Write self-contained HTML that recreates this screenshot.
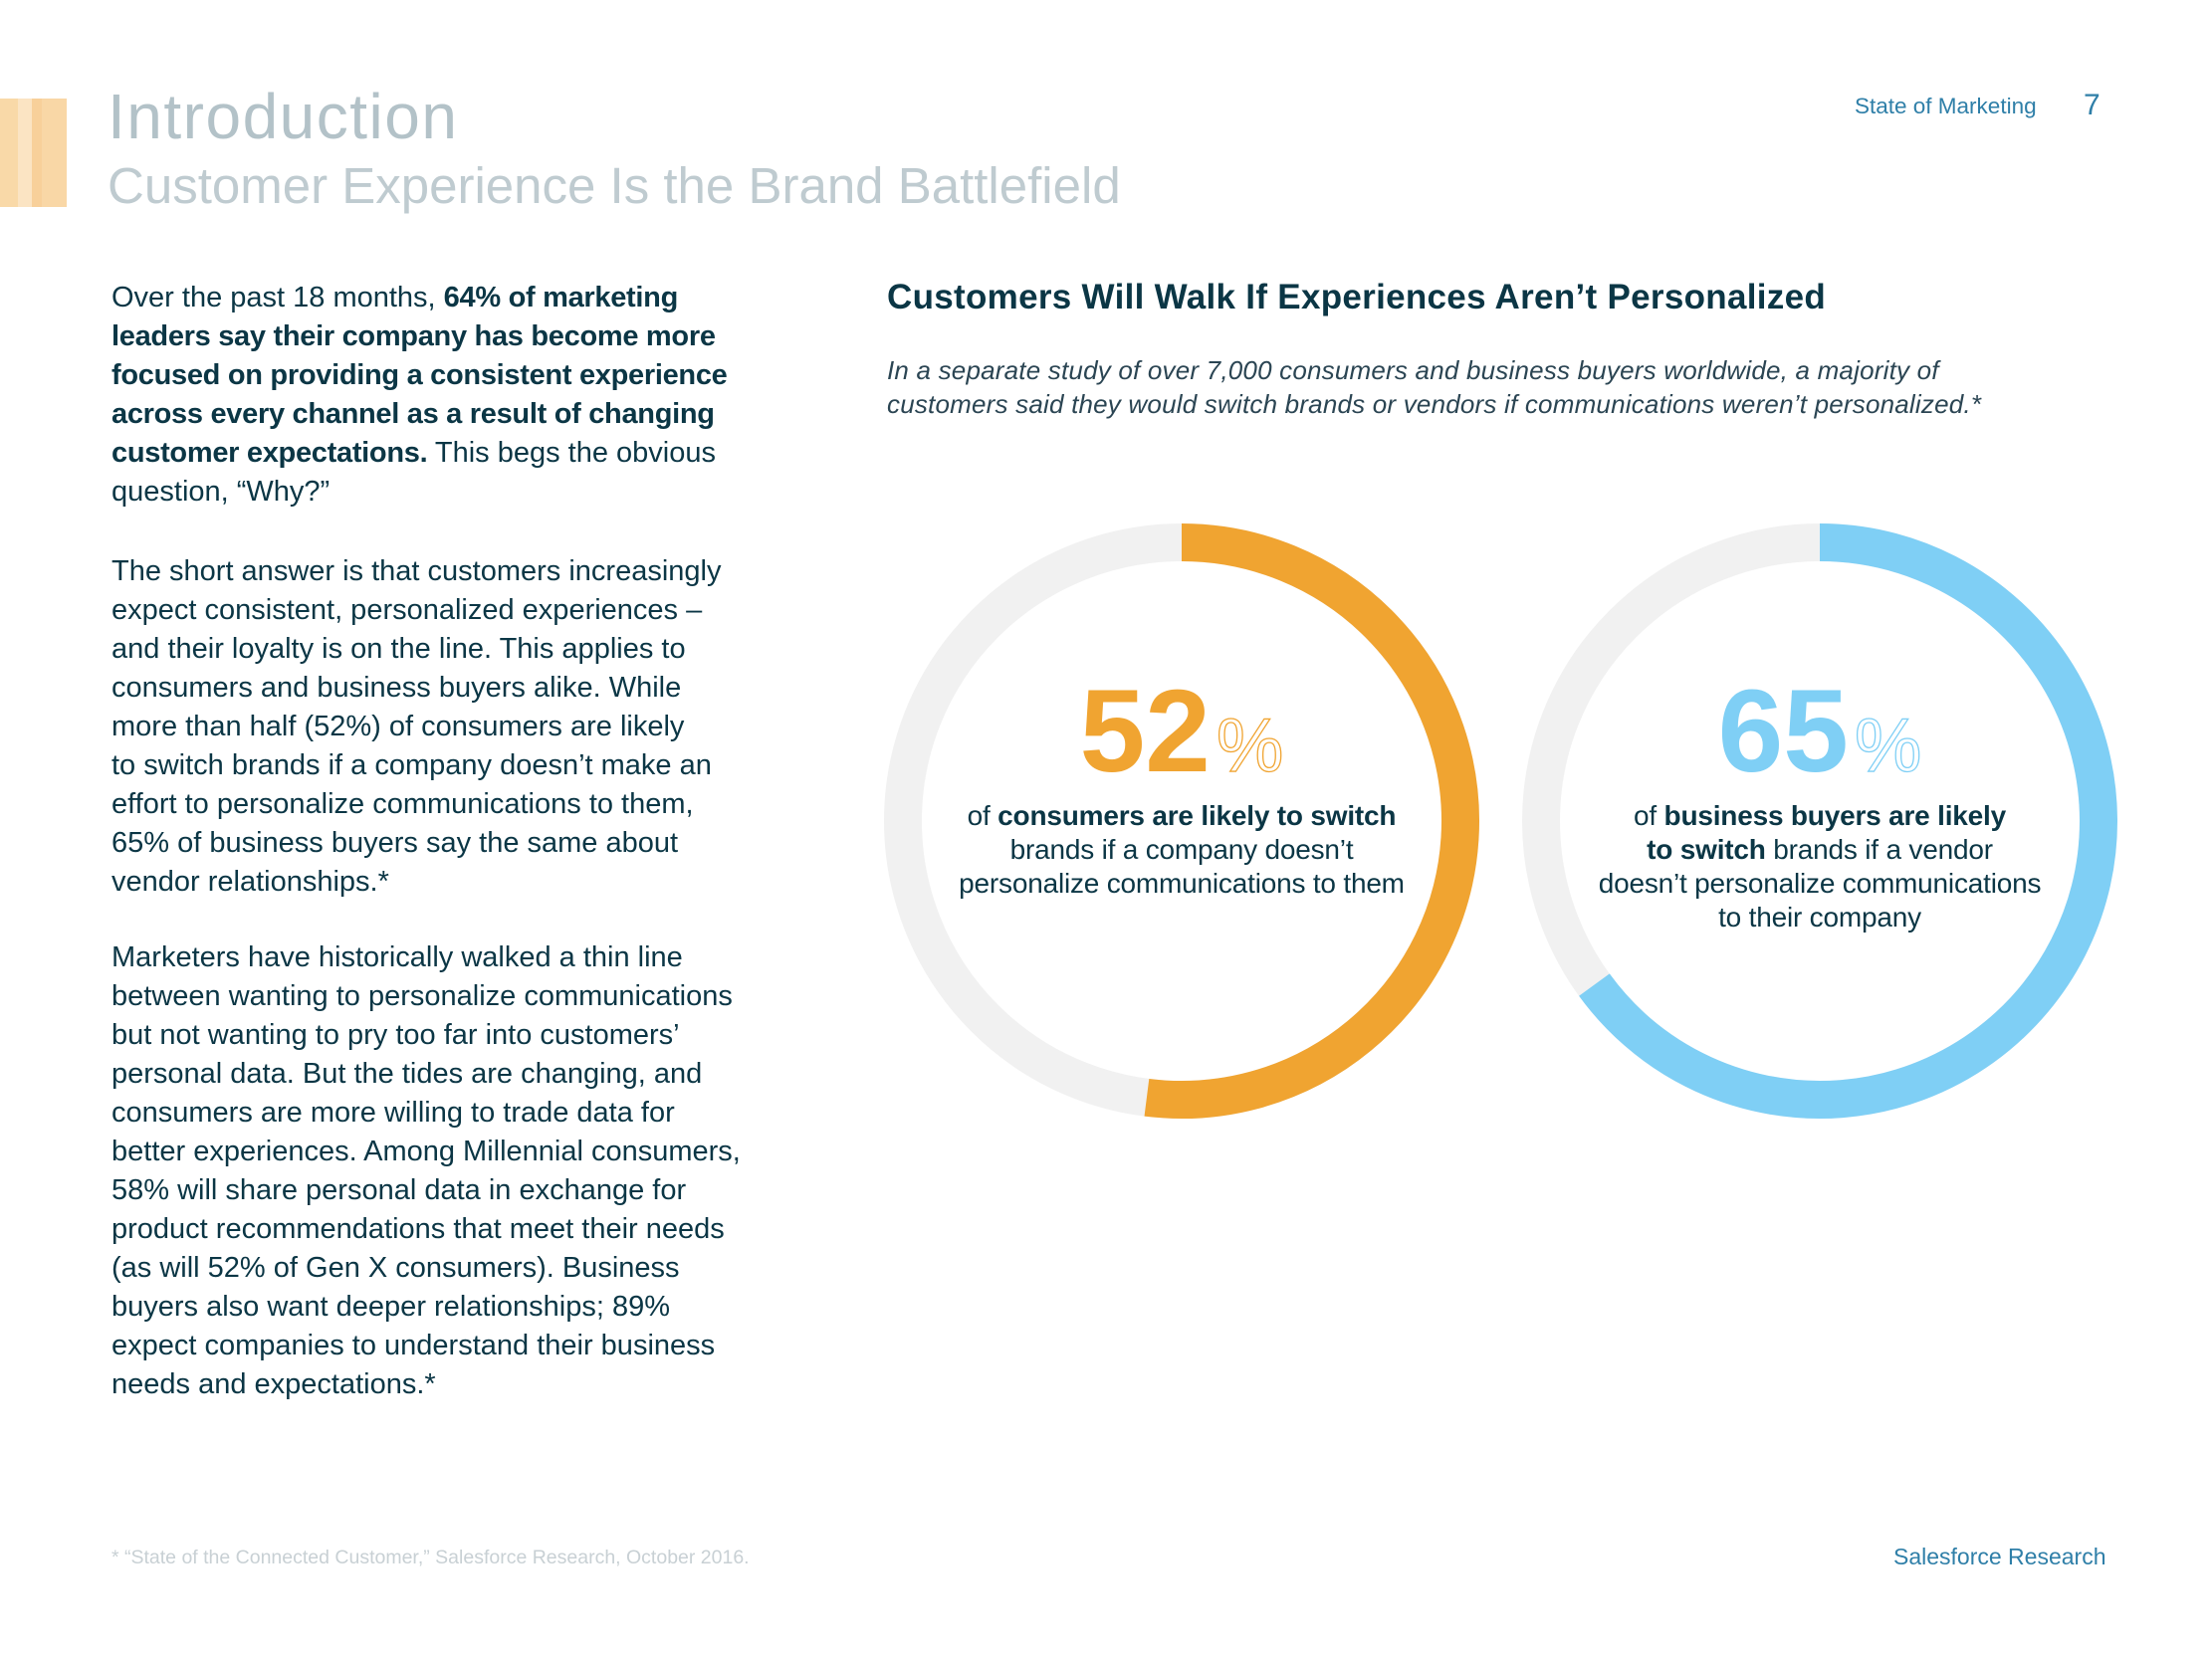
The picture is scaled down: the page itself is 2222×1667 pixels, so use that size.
<!DOCTYPE html>
<html><head><meta charset="utf-8">
<style>
html,body{margin:0;padding:0;background:#fff;}
body{width:2222px;height:1667px;position:relative;overflow:hidden;font-family:"Liberation Sans",sans-serif;color:#0b3645;}
.abs{position:absolute;white-space:nowrap;}
.stripe{position:absolute;top:99px;height:109px;}
#title{left:108px;top:80px;font-size:64px;letter-spacing:1.5px;color:#b3c2c8;}
#subtitle{left:108px;top:157px;font-size:51px;color:#bfcbd0;}
.body{left:112px;font-size:29px;line-height:39.0px;letter-spacing:0px;color:#0b3645;}
.body b{font-weight:bold;letter-spacing:-0.3px;}
#heading{left:900px;top:279px;font-size:35px;font-weight:bold;color:#0b3645;letter-spacing:0.3px;}
#sub{left:900px;top:355px;font-size:26px;line-height:34px;font-style:italic;color:#2b4553;letter-spacing:0.2px;}
.cap{font-size:28px;line-height:34px;text-align:center;color:#0b3645;letter-spacing:-0.2px;}
</style></head><body>
<div class="stripe" style="left:0;width:18px;background:#f9d9a8;"></div>
<div class="stripe" style="left:18px;width:14px;background:#fbe4c3;"></div>
<div class="stripe" style="left:32px;width:10px;background:#f8d09a;"></div>
<div class="stripe" style="left:42px;width:25px;background:#f9d7a6;"></div>
<div id="title" class="abs">Introduction</div>
<div id="subtitle" class="abs">Customer Experience Is the Brand Battlefield</div>
<div class="abs" style="left:1863px;top:94px;font-size:22.5px;color:#2f7fa8;">State of Marketing</div>
<div class="abs" style="left:2093px;top:89px;font-size:30px;color:#2f7fa8;">7</div>

<div class="abs body" style="top:280px;">Over the past 18 months, <b>64% of marketing</b><br><b>leaders say their company has become more</b><br><b>focused on providing a consistent experience</b><br><b>across every channel as a result of changing</b><br><b>customer expectations.</b> This begs the obvious<br>question, “Why?”</div>
<div class="abs body" style="top:555px;">The short answer is that customers increasingly<br>expect consistent, personalized experiences –<br>and their loyalty is on the line. This applies to<br>consumers and business buyers alike. While<br>more than half (52%) of consumers are likely<br>to switch brands if a company doesn’t make an<br>effort to personalize communications to them,<br>65% of business buyers say the same about<br>vendor relationships.*</div>
<div class="abs body" style="top:943px;">Marketers have historically walked a thin line<br>between wanting to personalize communications<br>but not wanting to pry too far into customers’<br>personal data. But the tides are changing, and<br>consumers are more willing to trade data for<br>better experiences. Among Millennial consumers,<br>58% will share personal data in exchange for<br>product recommendations that meet their needs<br>(as will 52% of Gen X consumers). Business<br>buyers also want deeper relationships; 89%<br>expect companies to understand their business<br>needs and expectations.*</div>

<div id="heading" class="abs" style="left:891px;">Customers Will Walk If Experiences Aren’t Personalized</div>
<div id="sub" class="abs" style="left:891px;">In a separate study of over 7,000 consumers and business buyers worldwide, a majority of<br>customers said they would switch brands or vendors if communications weren’t personalized.*</div>

<svg id="chart" class="abs" style="left:0;top:0;" width="2222" height="1667"></svg>

<div class="abs cap" style="left:887px;width:600px;top:803px;">of <b>consumers are likely to switch</b><br>brands if a company doesn’t<br>personalize communications to them</div>
<div class="abs cap" style="left:1528px;width:600px;top:803px;">of <b>business buyers are likely</b><br><b>to switch</b> brands if a vendor<br>doesn’t personalize communications<br>to their company</div>

<div class="abs" style="left:112px;top:1554px;font-size:19.5px;color:#c8d0d4;">* “State of the Connected Customer,” Salesforce Research, October 2016.</div>
<div class="abs" style="left:1902px;top:1551px;font-size:23px;color:#2f7fa8;">Salesforce Research</div>

<script>
const categories = ["consumers", "business-buyers"];
const percentValues = [52, 65];
const colors = ["#f0a431", "#7fcff5"];
const centersX = [1187, 1828];
const cy = 825, r = 280, sw = 38;
const NS = "http://www.w3.org/2000/svg";
const svg = document.getElementById("chart");
function angleFor(p){ return p/100*2*Math.PI; }
function pt(cx, a){ return [cx + r*Math.sin(a), cy - r*Math.cos(a)]; }
categories.forEach((c,i)=>{
  const cx = centersX[i];
  const track = document.createElementNS(NS,"circle");
  
  
  track.setAttribute("cx",cx); track.setAttribute("cy",cy); track.setAttribute("r",r);
  track.setAttribute("fill","none"); track.setAttribute("stroke","#f1f1f1"); track.setAttribute("stroke-width",sw);
  svg.appendChild(track);
  const a = angleFor(percentValues[i]);
  const [x0,y0] = pt(cx,0), [x1,y1] = pt(cx,a);
  const arc = document.createElementNS(NS,"path");
  
  
  arc.setAttribute("d",`M${x0},${y0} A${r},${r} 0 ${a>Math.PI?1:0} 1 ${x1},${y1}`);
  arc.setAttribute("fill","none"); arc.setAttribute("stroke",colors[i]); arc.setAttribute("stroke-width",sw);
  svg.appendChild(arc);
  const t = document.createElementNS(NS,"text");
  
  
  t.setAttribute("x",cx); t.setAttribute("y",775); t.setAttribute("text-anchor","middle");
  t.setAttribute("font-family","Liberation Sans, sans-serif");
  const n = document.createElementNS(NS,"tspan");
  n.setAttribute("font-size","118"); n.setAttribute("font-weight","bold"); n.setAttribute("fill",colors[i]);
  n.textContent = percentValues[i];
  const pc = document.createElementNS(NS,"tspan");
  pc.setAttribute("font-size","76"); pc.setAttribute("fill","none"); pc.setAttribute("stroke",colors[i]); pc.setAttribute("stroke-width","1.3"); pc.setAttribute("dx","6");
  pc.textContent = "%";
  t.appendChild(n); t.appendChild(pc);
  svg.appendChild(t);
});
</script>
</body></html>
